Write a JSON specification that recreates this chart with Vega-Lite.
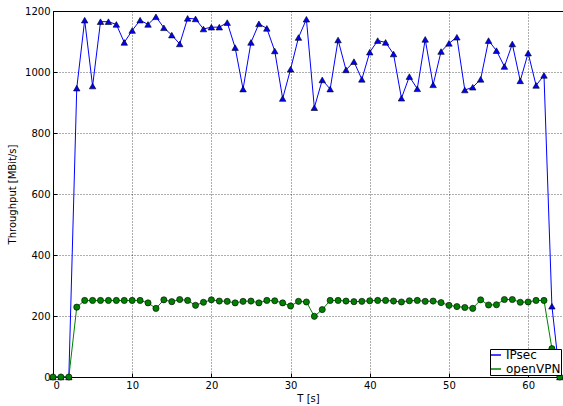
{
  "$schema": "https://vega.github.io/schema/vega-lite/v6.json",
  "autosize": "none",
  "padding": {"left": 53, "top": 11, "right": 0, "bottom": 29},
  "width": 510,
  "height": 366,
  "background": "white",
  "config": {
    "view": {"stroke": "#000000", "strokeWidth": 1},
    "font": "DejaVu Sans",
    "axis": {
      "domainColor": "#000000",
      "domainWidth": 1,
      "tickColor": "#000000",
      "tickWidth": 1,
      "tickSize": -4,
      "labelColor": "#000000",
      "labelFont": "DejaVu Sans",
      "labelFontSize": 10,
      "labelPadding": 7,
      "titleFont": "DejaVu Sans",
      "titleFontSize": 10,
      "titleFontWeight": "normal",
      "titleColor": "#000000",
      "gridColor": "#000000",
      "gridDash": [1, 2],
      "gridWidth": 0.8,
      "gridOpacity": 0.8
    },
    "legend": {
      "labelFont": "DejaVu Sans"
    }
  },
  "datasets": {
    "tp": [
      {"T": 0, "series": "IPsec", "throughput": 0},
      {"T": 1, "series": "IPsec", "throughput": 0},
      {"T": 2, "series": "IPsec", "throughput": 0},
      {"T": 3, "series": "IPsec", "throughput": 947},
      {"T": 4, "series": "IPsec", "throughput": 1170},
      {"T": 5, "series": "IPsec", "throughput": 954},
      {"T": 6, "series": "IPsec", "throughput": 1165},
      {"T": 7, "series": "IPsec", "throughput": 1165},
      {"T": 8, "series": "IPsec", "throughput": 1156},
      {"T": 9, "series": "IPsec", "throughput": 1097},
      {"T": 10, "series": "IPsec", "throughput": 1136},
      {"T": 11, "series": "IPsec", "throughput": 1170},
      {"T": 12, "series": "IPsec", "throughput": 1156},
      {"T": 13, "series": "IPsec", "throughput": 1181},
      {"T": 14, "series": "IPsec", "throughput": 1145},
      {"T": 15, "series": "IPsec", "throughput": 1121},
      {"T": 16, "series": "IPsec", "throughput": 1092},
      {"T": 17, "series": "IPsec", "throughput": 1176},
      {"T": 18, "series": "IPsec", "throughput": 1174},
      {"T": 19, "series": "IPsec", "throughput": 1141},
      {"T": 20, "series": "IPsec", "throughput": 1147},
      {"T": 21, "series": "IPsec", "throughput": 1147},
      {"T": 22, "series": "IPsec", "throughput": 1162},
      {"T": 23, "series": "IPsec", "throughput": 1080},
      {"T": 24, "series": "IPsec", "throughput": 944},
      {"T": 25, "series": "IPsec", "throughput": 1097},
      {"T": 26, "series": "IPsec", "throughput": 1158},
      {"T": 27, "series": "IPsec", "throughput": 1143},
      {"T": 28, "series": "IPsec", "throughput": 1069},
      {"T": 29, "series": "IPsec", "throughput": 913},
      {"T": 30, "series": "IPsec", "throughput": 1009},
      {"T": 31, "series": "IPsec", "throughput": 1113},
      {"T": 32, "series": "IPsec", "throughput": 1173},
      {"T": 33, "series": "IPsec", "throughput": 883},
      {"T": 34, "series": "IPsec", "throughput": 974},
      {"T": 35, "series": "IPsec", "throughput": 944},
      {"T": 36, "series": "IPsec", "throughput": 1105},
      {"T": 37, "series": "IPsec", "throughput": 1007},
      {"T": 38, "series": "IPsec", "throughput": 1034},
      {"T": 39, "series": "IPsec", "throughput": 976},
      {"T": 40, "series": "IPsec", "throughput": 1065},
      {"T": 41, "series": "IPsec", "throughput": 1103},
      {"T": 42, "series": "IPsec", "throughput": 1097},
      {"T": 43, "series": "IPsec", "throughput": 1059},
      {"T": 44, "series": "IPsec", "throughput": 914},
      {"T": 45, "series": "IPsec", "throughput": 985},
      {"T": 46, "series": "IPsec", "throughput": 945},
      {"T": 47, "series": "IPsec", "throughput": 1107},
      {"T": 48, "series": "IPsec", "throughput": 958},
      {"T": 49, "series": "IPsec", "throughput": 1067},
      {"T": 50, "series": "IPsec", "throughput": 1094},
      {"T": 51, "series": "IPsec", "throughput": 1114},
      {"T": 52, "series": "IPsec", "throughput": 941},
      {"T": 53, "series": "IPsec", "throughput": 950},
      {"T": 54, "series": "IPsec", "throughput": 976},
      {"T": 55, "series": "IPsec", "throughput": 1103},
      {"T": 56, "series": "IPsec", "throughput": 1070},
      {"T": 57, "series": "IPsec", "throughput": 1018},
      {"T": 58, "series": "IPsec", "throughput": 1092},
      {"T": 59, "series": "IPsec", "throughput": 971},
      {"T": 60, "series": "IPsec", "throughput": 1062},
      {"T": 61, "series": "IPsec", "throughput": 956},
      {"T": 62, "series": "IPsec", "throughput": 989},
      {"T": 63, "series": "IPsec", "throughput": 232},
      {"T": 64, "series": "IPsec", "throughput": 0},
      {"T": 0, "series": "openVPN", "throughput": 0},
      {"T": 1, "series": "openVPN", "throughput": 0},
      {"T": 2, "series": "openVPN", "throughput": 0},
      {"T": 3, "series": "openVPN", "throughput": 229},
      {"T": 4, "series": "openVPN", "throughput": 251},
      {"T": 5, "series": "openVPN", "throughput": 251},
      {"T": 6, "series": "openVPN", "throughput": 251},
      {"T": 7, "series": "openVPN", "throughput": 251},
      {"T": 8, "series": "openVPN", "throughput": 251},
      {"T": 9, "series": "openVPN", "throughput": 251},
      {"T": 10, "series": "openVPN", "throughput": 251},
      {"T": 11, "series": "openVPN", "throughput": 251},
      {"T": 12, "series": "openVPN", "throughput": 243},
      {"T": 13, "series": "openVPN", "throughput": 225},
      {"T": 14, "series": "openVPN", "throughput": 253},
      {"T": 15, "series": "openVPN", "throughput": 247},
      {"T": 16, "series": "openVPN", "throughput": 254},
      {"T": 17, "series": "openVPN", "throughput": 251},
      {"T": 18, "series": "openVPN", "throughput": 235},
      {"T": 19, "series": "openVPN", "throughput": 245},
      {"T": 20, "series": "openVPN", "throughput": 253},
      {"T": 21, "series": "openVPN", "throughput": 249},
      {"T": 22, "series": "openVPN", "throughput": 248},
      {"T": 23, "series": "openVPN", "throughput": 243},
      {"T": 24, "series": "openVPN", "throughput": 248},
      {"T": 25, "series": "openVPN", "throughput": 249},
      {"T": 26, "series": "openVPN", "throughput": 243},
      {"T": 27, "series": "openVPN", "throughput": 251},
      {"T": 28, "series": "openVPN", "throughput": 250},
      {"T": 29, "series": "openVPN", "throughput": 243},
      {"T": 30, "series": "openVPN", "throughput": 233},
      {"T": 31, "series": "openVPN", "throughput": 248},
      {"T": 32, "series": "openVPN", "throughput": 246},
      {"T": 33, "series": "openVPN", "throughput": 199},
      {"T": 34, "series": "openVPN", "throughput": 221},
      {"T": 35, "series": "openVPN", "throughput": 251},
      {"T": 36, "series": "openVPN", "throughput": 251},
      {"T": 37, "series": "openVPN", "throughput": 249},
      {"T": 38, "series": "openVPN", "throughput": 247},
      {"T": 39, "series": "openVPN", "throughput": 248},
      {"T": 40, "series": "openVPN", "throughput": 250},
      {"T": 41, "series": "openVPN", "throughput": 251},
      {"T": 42, "series": "openVPN", "throughput": 251},
      {"T": 43, "series": "openVPN", "throughput": 249},
      {"T": 44, "series": "openVPN", "throughput": 246},
      {"T": 45, "series": "openVPN", "throughput": 250},
      {"T": 46, "series": "openVPN", "throughput": 251},
      {"T": 47, "series": "openVPN", "throughput": 248},
      {"T": 48, "series": "openVPN", "throughput": 249},
      {"T": 49, "series": "openVPN", "throughput": 244},
      {"T": 50, "series": "openVPN", "throughput": 235},
      {"T": 51, "series": "openVPN", "throughput": 231},
      {"T": 52, "series": "openVPN", "throughput": 228},
      {"T": 53, "series": "openVPN", "throughput": 225},
      {"T": 54, "series": "openVPN", "throughput": 253},
      {"T": 55, "series": "openVPN", "throughput": 236},
      {"T": 56, "series": "openVPN", "throughput": 237},
      {"T": 57, "series": "openVPN", "throughput": 254},
      {"T": 58, "series": "openVPN", "throughput": 254},
      {"T": 59, "series": "openVPN", "throughput": 245},
      {"T": 60, "series": "openVPN", "throughput": 246},
      {"T": 61, "series": "openVPN", "throughput": 251},
      {"T": 62, "series": "openVPN", "throughput": 251},
      {"T": 63, "series": "openVPN", "throughput": 93},
      {"T": 64, "series": "openVPN", "throughput": 0}
    ]
  },
  "data": {"name": "tp"},
  "encoding": {
    "x": {
      "field": "T", "type": "quantitative",
      "scale": {"domain": [0, 64.4], "nice": false, "zero": false},
      "axis": {"values": [0, 10, 20, 30, 40, 50, 60], "title": "T [s]", "grid": true, "titlePadding": 3}
    },
    "y": {
      "field": "throughput", "type": "quantitative",
      "scale": {"domain": [0, 1200], "nice": false},
      "axis": {"values": [0, 200, 400, 600, 800, 1000, 1200], "format": "d", "title": "Throughput [MBit/s]", "grid": true, "titlePadding": 7}
    }
  },
  "layer": [
    {
      "mark": {"type": "line", "strokeWidth": 1, "clip": false},
      "encoding": {
        "color": {
          "field": "series", "type": "nominal",
          "scale": {"domain": ["IPsec", "openVPN"], "range": ["#0000ff", "#008000"]},
          "legend": {"orient": "bottom-right", "offset": 2, "title": null, "fillColor": "#ffffff", "strokeColor": "#000000", "labelFontSize": 12, "labelColor": "#000000"}
        }
      }
    },
    {
      "transform": [{"filter": "datum.series === 'IPsec'"}],
      "mark": {"type": "point", "shape": "triangle-up", "filled": true, "fill": "#0000ff", "stroke": "#000000", "strokeWidth": 0.6, "size": 42, "opacity": 1, "clip": false},
      "encoding": {}
    },
    {
      "transform": [{"filter": "datum.series === 'openVPN'"}],
      "mark": {"type": "point", "shape": "circle", "filled": true, "fill": "#008000", "stroke": "#000000", "strokeWidth": 0.6, "size": 38, "opacity": 1, "clip": false},
      "encoding": {}
    }
  ]
}
